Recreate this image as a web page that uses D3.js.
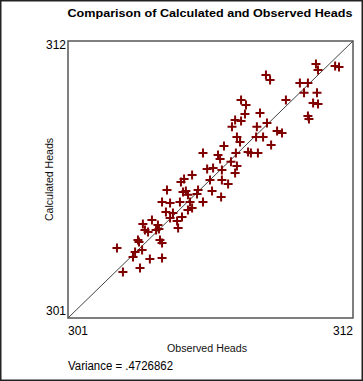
<!DOCTYPE html>
<html>
<head>
<meta charset="utf-8">
<script src="https://cdn.jsdelivr.net/npm/d3@7"></script>
<style>
  body { margin: 0; background: #fff; }
  svg { display: block; }
</style>
</head>
<body>
<div id="chart"></div>
<script>
const observed = [
  310.57, 310.65, 311.31, 311.46, 308.64, 308.80, 309.95, 310.26, 310.11, 310.61,
  310.46, 310.65, 310.26, 310.30, 309.41, 307.68, 307.87, 307.83, 308.41, 307.45,
  307.68, 307.33, 308.29, 308.68, 309.07, 309.26, 307.52, 307.64, 308.26, 308.53,
  308.84, 307.02, 306.21, 306.79, 306.87, 307.48, 307.95, 308.06, 308.33, 307.29,
  307.52, 306.37, 306.60, 306.94, 307.45, 306.48, 306.94, 307.18, 305.79, 305.36,
  305.48, 304.82, 305.55, 305.63, 306.02, 306.56, 306.91, 305.98, 306.21, 304.63,
  304.94, 305.32, 305.71, 304.78, 305.05, 305.63, 305.79, 305.40, 304.24, 303.89,
  304.94, 305.21, 304.47, 303.97, 304.09, 304.40, 304.51, 305.25, 304.55, 304.63,
  303.70, 303.74, 302.89, 303.59, 303.86, 303.51, 304.16, 304.63, 303.78, 303.12,
  305.44
];
const calculated = [
  311.09, 310.85, 311.01, 310.97, 310.65, 310.45, 310.33, 310.33, 309.94, 309.94,
  309.54, 309.50, 309.02, 308.90, 309.66, 309.66, 309.46, 309.10, 309.14, 308.86,
  308.82, 308.59, 308.59, 308.74, 308.43, 308.35, 308.19, 307.99, 308.19, 308.19,
  307.87, 307.83, 307.55, 307.47, 307.31, 307.55, 307.59, 307.55, 307.55, 307.20,
  307.04, 306.92, 306.96, 306.88, 306.76, 306.48, 306.48, 306.32, 306.68, 306.40,
  306.52, 306.08, 306.04, 305.89, 306.08, 306.04, 305.81, 305.92, 305.61, 305.61,
  305.57, 305.61, 305.61, 305.21, 305.17, 305.29, 305.37, 305.01, 304.89, 304.73,
  304.97, 304.85, 304.69, 304.49, 304.42, 304.49, 304.53, 304.57, 304.10, 303.98,
  304.10, 304.02, 303.78, 303.62, 303.70, 303.42, 303.34, 303.38, 302.99, 302.83,
  306.00
];
const axisRange = [301, 312];
const title = 'Comparison of Calculated and Observed Heads';
const xTitle = 'Observed Heads';
const yTitle = 'Calculated Heads';
const varianceLabel = 'Variance = .4726862';

const W = 363, H = 381;
const box = { left: 68, top: 41, right: 353, bottom: 318 };

const svg = d3.select('#chart').append('svg')
  .attr('width', W).attr('height', H)
  .style('font-family', '"Liberation Sans", Arial, sans-serif');

// outer frame
svg.append('rect')
  .attr('x', 0.75).attr('y', 0.75)
  .attr('width', W - 1.5).attr('height', H - 1.5)
  .attr('fill', '#fff').attr('stroke', '#222').attr('stroke-width', 1.5);

const x = d3.scaleLinear().domain(axisRange).range([box.left, box.right]);
const y = d3.scaleLinear().domain(axisRange).range([box.bottom, box.top]);

// title
svg.append('text')
  .attr('x', 210).attr('y', 17)
  .attr('text-anchor', 'middle')
  .attr('textLength', 285).attr('lengthAdjust', 'spacingAndGlyphs')
  .style('font-size', '11.5px').style('font-weight', 'bold')
  .text(title);

// plot box
svg.append('rect')
  .attr('x', box.left).attr('y', box.top)
  .attr('width', box.right - box.left).attr('height', box.bottom - box.top)
  .attr('fill', 'none').attr('stroke', '#555').attr('stroke-width', 1.5);

// 1:1 line
svg.append('line')
  .attr('x1', x(axisRange[0])).attr('y1', y(axisRange[0]))
  .attr('x2', x(axisRange[1])).attr('y2', y(axisRange[1]))
  .attr('stroke', '#444').attr('stroke-width', 1);

// tick labels
const tickStyle = s => s.style('font-size', '12px').attr('fill', '#000');
svg.append('text').call(tickStyle)
  .attr('x', box.left - 2).attr('y', y(axisRange[1]) + 8)
  .attr('text-anchor', 'end').text(axisRange[1]);
svg.append('text').call(tickStyle)
  .attr('x', box.left - 2).attr('y', y(axisRange[0]) - 3)
  .attr('text-anchor', 'end').text(axisRange[0]);
svg.append('text').call(tickStyle)
  .attr('x', x(axisRange[0])).attr('y', 335)
  .attr('text-anchor', 'start').text(axisRange[0]);
svg.append('text').call(tickStyle)
  .attr('x', x(axisRange[1])).attr('y', 335)
  .attr('text-anchor', 'end').text(axisRange[1]);

// axis titles
svg.append('text')
  .attr('x', 207).attr('y', 352)
  .attr('text-anchor', 'middle')
  .attr('textLength', 80).attr('lengthAdjust', 'spacingAndGlyphs')
  .style('font-size', '10px').attr('fill', '#111')
  .text(xTitle);

svg.append('text')
  .attr('transform', `translate(53,${(box.top + box.bottom) / 2}) rotate(-90)`)
  .attr('text-anchor', 'middle')
  .attr('textLength', 83).attr('lengthAdjust', 'spacingAndGlyphs')
  .style('font-size', '10px').attr('fill', '#111')
  .text(yTitle);

svg.append('text')
  .attr('x', 68).attr('y', 370)
  .attr('textLength', 105).attr('lengthAdjust', 'spacingAndGlyphs')
  .style('font-size', '12px')
  .text(varianceLabel);

// points
const points = observed.map((o, i) => ({ obs: o, calc: calculated[i] }));
svg.append('g').selectAll('path')
  .data(points).enter()
  .append('path')
  .attr('transform', d => `translate(${x(d.obs)},${y(d.calc)})`)
  .attr('d', 'M-4.5,0H4.5M0,-4.5V4.5')
  .attr('stroke', '#800000').attr('stroke-width', 2)
  .attr('fill', 'none');
</script>
</body>
</html>
